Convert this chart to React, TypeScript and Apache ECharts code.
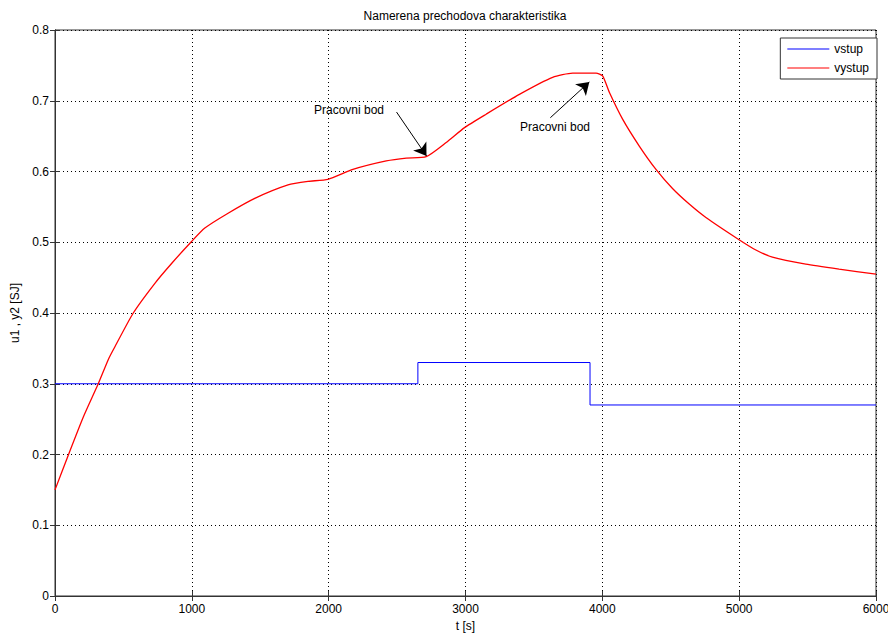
import React, { useEffect, useRef } from "react";
import * as echarts from "echarts";

const titleText = "Namerena prechodova charakteristika";
const xTicks = [0, 1000, 2000, 3000, 4000, 5000, 6000];
const yTicks = [0, 0.1, 0.2, 0.3, 0.4, 0.5, 0.6, 0.7, 0.8];

// vstup (step input)
const inT = [0, 2652, 3910, 6000];
const inV = [0.3, 0.33, 0.27, 0.27];

// vystup (measured output)
const outT = [0, 97, 207, 316, 389, 426, 572, 730, 852, 993, 1095, 1265, 1460, 1703, 1849, 1995, 2177, 2421, 2567, 2713, 2859, 2993, 3151, 3394, 3637, 3783, 3954, 4002, 4051, 4148, 4270, 4392, 4513, 4635, 4757, 4988, 5122, 5243, 5487, 5730, 6000];
const outV = [0.15, 0.199, 0.253, 0.3, 0.334, 0.348, 0.4, 0.442, 0.47, 0.5, 0.52, 0.541, 0.562, 0.581, 0.586, 0.589, 0.603, 0.615, 0.619, 0.621, 0.641, 0.662, 0.681, 0.709, 0.733, 0.739, 0.739, 0.735, 0.712, 0.674, 0.636, 0.603, 0.576, 0.554, 0.535, 0.505, 0.489, 0.479, 0.469, 0.462, 0.455];

// annotation arrows: [tailT, tailV, headT, headV]
const arrows = [
  [2496, 0.684, 2715, 0.622],
  [3620, 0.676, 3905, 0.7265],
];
const annotationLabel = "Pracovni bod";

const FONT = "'Liberation Sans', Arial, sans-serif";

export default function App() {
  const ref = useRef<HTMLDivElement>(null);
  useEffect(() => {
    if (!ref.current) return;
    const chart = echarts.init(ref.current, undefined, { renderer: "svg" });
    const axisColor = "#333";
    chart.setOption({
      animation: false,
      backgroundColor: "#fff",
      grid: {
        left: 55,
        right: 12,
        top: 30,
        bottom: 39,
        show: true,
        containLabel: false,
        outerBoundsMode: "none",
        borderColor: axisColor,
        borderWidth: 1,
        backgroundColor: "#fff",
      },
      legend: {
        orient: "vertical",
        right: 11,
        top: 38,
        backgroundColor: "#fff",
        borderColor: axisColor,
        borderWidth: 1,
        borderRadius: 0,
        padding: [5, 8, 5, 7],
        itemWidth: 42,
        itemHeight: 1,
        itemGap: 7,
        icon: "rect",
        textStyle: { fontSize: 12, color: "#000", fontFamily: FONT },
        data: ["vstup", "vystup"],
      },
      xAxis: [
        {
          type: "value",
          min: xTicks[0],
          max: xTicks[xTicks.length - 1],
          interval: 1000,
          name: "t [s]",
          nameLocation: "middle",
          nameGap: 23,
          nameTextStyle: { fontSize: 12, color: "#000", fontFamily: FONT },
          axisLine: { show: true, lineStyle: { color: axisColor } },
          axisTick: { show: true, inside: true, length: 5, lineStyle: { color: axisColor } },
          axisLabel: { color: "#000", fontSize: 12, margin: 7, fontFamily: FONT, formatter: (v: number) => String(v) },
          splitLine: { show: true, lineStyle: { color: "#000", type: [1, 3], width: 1 } },
        },
        {
          type: "value",
          position: "top",
          min: xTicks[0],
          max: xTicks[xTicks.length - 1],
          interval: 1000,
          axisLine: { show: true, lineStyle: { color: axisColor } },
          axisTick: { show: true, inside: true, length: 5, lineStyle: { color: axisColor } },
          axisLabel: { show: false },
          splitLine: { show: false },
        },
      ],
      yAxis: [
        {
          type: "value",
          min: yTicks[0],
          max: yTicks[yTicks.length - 1],
          interval: 0.1,
          name: "u1 , y2 [SJ]",
          nameLocation: "middle",
          nameRotate: 90,
          nameGap: 31,
          nameTextStyle: { fontSize: 12, color: "#000", fontFamily: FONT },
          axisLine: { show: true, lineStyle: { color: axisColor } },
          axisTick: { show: true, inside: true, length: 5, lineStyle: { color: axisColor } },
          axisLabel: {
            color: "#000",
            fontSize: 12,
            margin: 6,
            fontFamily: FONT,
            formatter: (v: number) => String(Math.round(v * 10) / 10),
          },
          splitLine: { show: true, lineStyle: { color: "#000", type: [1, 3], width: 1 } },
        },
        {
          type: "value",
          position: "right",
          min: yTicks[0],
          max: yTicks[yTicks.length - 1],
          interval: 0.1,
          axisLine: { show: true, lineStyle: { color: axisColor } },
          axisTick: { show: true, inside: true, length: 5, lineStyle: { color: axisColor } },
          axisLabel: { show: false },
          splitLine: { show: false },
        },
      ],
      series: [
        {
          name: "vstup",
          type: "line",
          step: "end",
          symbol: "none",
          color: "#0000ff",
          lineStyle: { color: "#0000ff", width: 1 },
          data: inT.map((t, i) => [t, inV[i]]),
          silent: true,
        },
        {
          name: "vystup",
          type: "line",
          symbol: "none",
          smooth: 0.2,
          color: "#ff0000",
          lineStyle: { color: "#ff0000", width: 1.3 },
          data: outT.map((t, i) => [t, outV[i]]),
          silent: true,
          markLine: {
            silent: true,
            symbol: ["none", "arrow"],
            symbolSize: 12,
            label: { show: false },
            lineStyle: { color: "#000", type: "solid", width: 1 },
            emphasis: { disabled: true },
            data: arrows.map((a) => [
              { coord: [a[0], a[1]] },
              { coord: [a[2], a[3]] },
            ]),
          },
        },
      ],
      graphic: [
        {
          type: "text",
          x: 465,
          y: 16,
          style: { text: titleText, fill: "#000", font: `12px ${FONT}`, textAlign: "center", textVerticalAlign: "middle" },
        },
        {
          type: "text",
          left: 314,
          top: 104,
          style: { text: annotationLabel, fill: "#000", font: `12px ${FONT}` },
        },
        {
          type: "text",
          left: 520,
          top: 121,
          style: { text: annotationLabel, fill: "#000", font: `12px ${FONT}` },
        },
      ],
    });
    return () => chart.dispose();
  }, []);
  return <div ref={ref} style={{ position: "absolute", left: 0, top: 0, width: 888, height: 635 }} />;
}
